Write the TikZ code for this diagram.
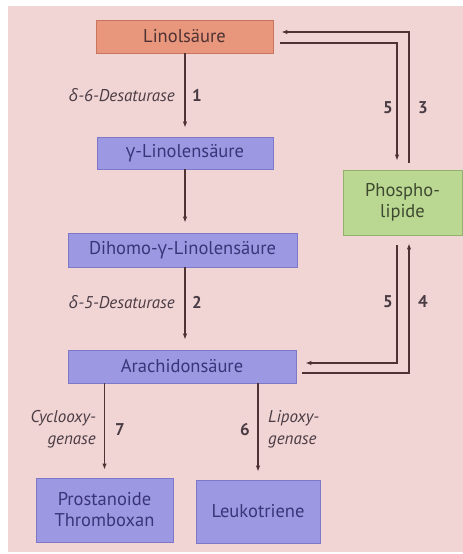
\documentclass[tikz,border=0pt]{standalone}
\usepackage{fontspec}
\setmainfont{PT Sans}
\newfontfamily\grk{Open Sans}
\newcommand{\gam}{{\grk γ}}
\newcommand{\delt}{{\grk δ}}
\usetikzlibrary{arrows.meta,calc}
\definecolor{bgpink}{HTML}{F1D4D4}
\definecolor{salmon}{HTML}{E8967C}
\definecolor{salmonb}{HTML}{C8745E}
\definecolor{lav}{HTML}{9D98E2}
\definecolor{lavb}{HTML}{7E78C8}
\definecolor{lgreen}{HTML}{BBD892}
\definecolor{lgreenb}{HTML}{93B06C}
\definecolor{linec}{HTML}{4E3234}
\definecolor{txtlav}{HTML}{3A3478}
\definecolor{txtlab}{HTML}{4A3C44}
\definecolor{txtgreen}{HTML}{3E4A30}
\tikzset{
  boxbase/.style={rectangle, inner sep=0pt, align=center, font=\fontsize{18.5}{21}\selectfont, line width=0.8pt},
  orangebox/.style={boxbase, fill=salmon, draw=salmonb, text=linec},
  lavbox/.style={boxbase, fill=lav, draw=lavb, text=txtlav},
  greenbox/.style={boxbase, fill=lgreen, draw=lgreenb, text=txtgreen},
  arr/.style={draw=linec, line width=1.3pt, -{Latex[length=6pt,width=4.5pt]}},
  enzlab/.style={text=txtlab, font=\fontsize{17}{22}\selectfont\itshape, inner sep=0pt},
  numlab/.style={text=txtlab, font=\fontsize{17}{20}\selectfont\bfseries, inner sep=0pt}
}
\begin{document}
\begin{tikzpicture}[x=1pt,y=-1pt]
\useasboundingbox (0,0) rectangle (463,554);
\fill[white] (0,0) rectangle (463,554);
\fill[bgpink] (8,6) rectangle (463,552);

\node[orangebox, minimum width=177pt, minimum height=33pt] (lin) at (184.5,36.5) {Linolsäure};
\node[lavbox, minimum width=176pt, minimum height=32pt] (gam) at (185,153) {\gam-Linolensäure};
\node[lavbox, minimum width=229pt, minimum height=34pt] (dih) at (182.5,250) {Dihomo-\gam-Linolensäure};
\node[lavbox, minimum width=228pt, minimum height=33pt] (ara) at (182,366.5) {Arachidonsäure};
\node[lavbox, minimum width=137pt, minimum height=64pt] (pro) at (104.5,510) {Prostanoide\\Thromboxan};
\node[lavbox, minimum width=124pt, minimum height=63pt] (leu) at (258,511.5) {Leukotriene};
\node[greenbox, minimum width=119pt, minimum height=65pt] (pho) at (402.5,202.5) {Phospho-\\lipide};

% main chain
\draw[arr, shorten >=9pt] (lin.south -| gam.north) -- (gam.north);
\draw[arr, shorten >=10pt] (gam.south) -- (gam.south |- dih.north);
\draw[arr, shorten >=10pt] (gam.south |- dih.south) -- (gam.south |- ara.north);
\draw[arr, shorten >=8pt] (ara.south -| pro.north) -- (pro.north);
\draw[arr, shorten >=8pt] (ara.south -| leu.north) -- (leu.north);

% loops to/from phospholipids
\draw[arr, shorten <=7pt, shorten >=8pt] ([xshift=6.5pt]pho.north) |- ([yshift=4.5pt]lin.east);
\draw[arr, shorten <=7pt, shorten >=9pt] ([yshift=-6.5pt]lin.east) -| ([xshift=-5.5pt]pho.north);
\draw[arr, shorten <=10pt, shorten >=9pt] ([xshift=-5.5pt]pho.south) |- ([yshift=3.5pt]ara.east);
\draw[arr, shorten <=6pt, shorten >=8pt] ([yshift=-6.5pt]ara.east) -| ([xshift=6.5pt]pho.south);

% labels
\node[enzlab, anchor=east] (l1) at (175,95) {\delt-6-Desaturase};
\node[numlab] (n1) at (197,95) {1};
\node[enzlab, anchor=east] (l2) at (175,302) {\delt-5-Desaturase};
\node[numlab] (n2) at (197,302) {2};
\node[numlab] (n5a) at (388,108) {5};
\node[numlab] (n3) at (423,108) {3};
\node[numlab] (n5b) at (388,302) {5};
\node[numlab] (n4) at (423,302) {4};
\node[enzlab, anchor=east, align=right] (l7) at (96,429) {Cyclooxy-\\genase};
\node[numlab] (n7) at (120,430) {7};
\node[numlab] (n6) at (245,430) {6};
\node[enzlab, anchor=west, align=left] (l6) at (268,429) {Lipoxy-\\genase};
\end{tikzpicture}
\end{document}
